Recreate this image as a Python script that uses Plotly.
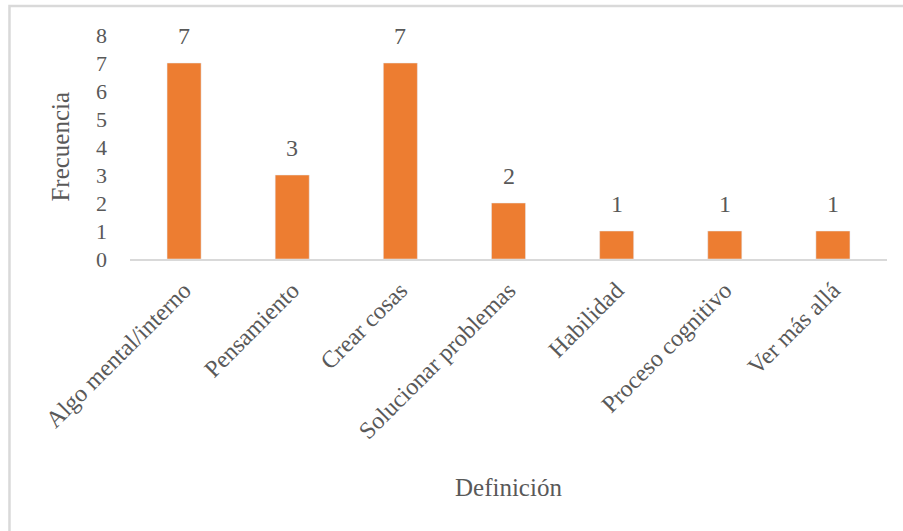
import plotly.graph_objects as go

categorias = ["Algo mental/interno", "Pensamiento", "Crear cosas",
              "Solucionar problemas", "Habilidad", "Proceso cognitivo", "Ver más allá"]
frecuencias = [7, 3, 7, 2, 1, 1, 1]
y_ticks = [0, 1, 2, 3, 4, 5, 6, 7, 8]

FONT = "Liberation Serif, Times New Roman, serif"
GRIS = "#595959"
NARANJA = "#ED7D31"

fig = go.Figure()
fig.add_trace(go.Bar(
    x=categorias, y=frecuencias, marker_color=NARANJA, width=0.315,
    hoverinfo="skip",
))

# value labels above each bar
for c, v in zip(categorias, frecuencias):
    fig.add_annotation(x=c, y=v, text=str(v), showarrow=False, xref="x", yref="y",
                       yanchor="bottom", yshift=12,
                       font=dict(family=FONT, size=24, color=GRIS))

# axis titles
fig.add_annotation(text="Frecuencia", xref="paper", yref="paper", x=-0.093, y=0.5,
                   textangle=-90, showarrow=False, xanchor="center", yanchor="middle",
                   font=dict(family=FONT, size=25, color=GRIS))
fig.add_annotation(text="Definición", xref="paper", yref="paper", x=0.5, y=-1.022,
                   showarrow=False, xanchor="center", yanchor="middle",
                   font=dict(family=FONT, size=25, color=GRIS))

# chart frame
fig.add_shape(type="rect", xref="paper", yref="paper",
              x0=-0.1592, y0=-1.3, x1=1.05, y1=1.129,
              line=dict(color="#D9D9D9", width=2.5), fillcolor="rgba(0,0,0,0)", layer="below")

fig.update_layout(
    width=903, height=531,
    margin=dict(l=130, r=16, t=35, b=272),
    paper_bgcolor="white", plot_bgcolor="white",
    showlegend=False,
    xaxis=dict(
        tickangle=-45, showgrid=False, showline=True, linecolor="#D9D9D9", linewidth=1.5,
        ticks="", tickfont=dict(family=FONT, size=24, color=GRIS), ticklabelstandoff=6,
    ),
    yaxis=dict(
        range=[0, 8], tickvals=y_ticks, showgrid=False, zeroline=False, showline=False,
        ticks="", tickfont=dict(family=FONT, size=22, color=GRIS), ticklabelstandoff=22,
    ),
)

fig.write_html("out.html")
